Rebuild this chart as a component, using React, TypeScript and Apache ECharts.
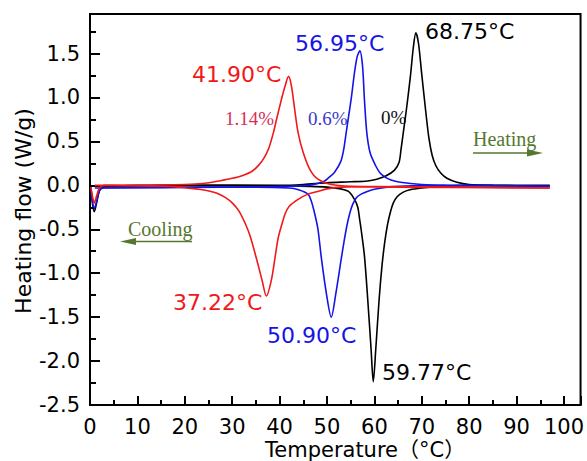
import React, { useEffect, useRef } from "react";
import * as echarts from "echarts";

type Pt = [number, number];

// Temperature (°C), heat flow (W/g)
const heating0pct: Pt[] = [
  [0.2, -0.02], [0.5, -0.2], [0.9, -0.3], [1.4, -0.2], [2.0, -0.06], [2.8, -0.02], [5, -0.01],
  [10, 0.0], [20, 0.0], [30, 0.0], [40, 0.0], [45, 0.01], [50, 0.03], [55, 0.04], [58.6, 0.05],
  [60.5, 0.07], [62.5, 0.11], [64.2, 0.17], [65.2, 0.26], [65.6, 0.4], [66.1, 0.6], [66.8, 0.88],
  [67.6, 1.24], [68.2, 1.56], [68.75, 1.735], [69.3, 1.62], [70.0, 1.26], [70.8, 0.86], [71.5, 0.54],
  [72.2, 0.34], [73.0, 0.22], [74.0, 0.14], [75.3, 0.08], [77.4, 0.035], [80, 0.01], [85, 0.0],
  [90, -0.005], [97, -0.01],
];
const cooling0pct: Pt[] = [
  [1, -0.01], [5, -0.01], [20, 0.0], [40, -0.005], [50, -0.02], [54.4, -0.065], [55.8, -0.16],
  [56.5, -0.25], [56.9, -0.39], [57.2, -0.5], [57.9, -0.8], [58.6, -1.3], [59.3, -1.86],
  [59.77, -2.235], [60.3, -1.86], [61.0, -1.3], [61.6, -0.92], [62.2, -0.64], [62.8, -0.44],
  [63.4, -0.3], [64.0, -0.2], [64.8, -0.13], [66, -0.08], [67.5, -0.05], [70, -0.03],
  [73.2, -0.015], [80, 0.0], [97, 0.0],
];
const heating06pct: Pt[] = [
  [0.2, -0.02], [0.5, -0.18], [0.9, -0.26], [1.4, -0.18], [2.0, -0.06], [2.8, -0.03], [5, -0.025],
  [15, -0.025], [25, -0.02], [35, -0.02], [42, -0.01], [46, 0.0], [48, 0.02], [49.5, 0.05],
  [50.2, 0.08], [51.6, 0.15], [52.9, 0.27], [53.5, 0.4], [54.0, 0.58], [54.6, 0.8], [55.1, 0.98],
  [55.8, 1.28], [56.4, 1.47], [56.95, 1.53], [57.5, 1.36], [57.9, 0.98], [58.4, 0.6], [59.1, 0.37],
  [60.3, 0.22], [61.2, 0.14], [62.1, 0.1], [63.5, 0.06], [65.5, 0.035], [70, 0.01], [75, 0.0],
  [85, -0.005], [97, -0.01],
];
const cooling06pct: Pt[] = [
  [1, -0.03], [5, -0.03], [20, -0.025], [35, -0.02], [42, -0.03], [44, -0.05], [46.0, -0.1],
  [46.7, -0.18], [47.4, -0.32], [48.1, -0.5], [48.8, -0.82], [49.9, -1.24], [50.9, -1.5],
  [51.9, -1.22], [53.0, -0.84], [53.6, -0.64], [54.2, -0.46], [54.8, -0.32], [55.4, -0.22],
  [56.2, -0.14], [57.2, -0.1], [58.5, -0.07], [60, -0.045], [64, -0.015], [75, 0.0], [97, -0.01],
];
const heating114pct: Pt[] = [
  [0.2, -0.02], [0.5, -0.12], [0.9, -0.2], [1.4, -0.12], [2.0, -0.03], [3, 0.0], [10, 0.0],
  [20, 0.01], [22.3, 0.015], [25.1, 0.03], [27.2, 0.05], [30, 0.08], [32.1, 0.11], [34.2, 0.16],
  [35.6, 0.23], [36.7, 0.31], [37.7, 0.42], [38.7, 0.6], [39.4, 0.76], [40.4, 0.98], [41.1, 1.12],
  [41.9, 1.24], [42.5, 1.13], [43.2, 0.86], [43.9, 0.6], [45.0, 0.37], [46.4, 0.18], [48.1, 0.07],
  [50.9, 0.01], [55, -0.01], [65, -0.02], [80, -0.025], [97, -0.03],
];
const cooling114pct: Pt[] = [
  [1, 0.0], [5, 0.0], [10, -0.005], [15, -0.01], [18.8, -0.02], [20.5, -0.03], [23, -0.045],
  [25.1, -0.065], [26.8, -0.09], [28.6, -0.14], [30.0, -0.2], [31.4, -0.29], [32.8, -0.44],
  [33.8, -0.58], [35.2, -0.85], [36.3, -1.08], [37.22, -1.26], [38.3, -1.07], [39.1, -0.8],
  [39.7, -0.6], [40.5, -0.44], [41.2, -0.32], [42.0, -0.24], [43.9, -0.16], [46, -0.1],
  [48.1, -0.07], [50, -0.04], [53, -0.02], [60, -0.015], [75, -0.02], [97, -0.03],
];

const peakLabels = ["41.90°C", "56.95°C", "68.75°C", "37.22°C", "50.90°C", "59.77°C"];
const contentLabels = ["1.14%", "0.6%", "0%"];
const xTitle = "Temperature（°C）";
const yTitle = "Heating flow (W/g)";

const RED = "#f01818";
const BLUE = "#1414e6";
const BLACK = "#000000";
const GREEN = "#56772f";
const SANS = "'DejaVu Sans', 'Noto Sans CJK SC', sans-serif";
const SERIF = "'Liberation Serif', 'DejaVu Serif', serif";

export default function App() {
  const ref = useRef<HTMLDivElement>(null);
  useEffect(() => {
    if (!ref.current) return;
    const chart = echarts.init(ref.current, undefined, { renderer: "svg" });
    const line = (data: Pt[], color: string) => ({
      type: "line",
      data,
      showSymbol: false,
      smooth: 0.3,
      lineStyle: { color, width: 1.6 },
      itemStyle: { color },
      z: 3,
    });
    const peakText = (text: string, x: number, y: number, color: string) => ({
      type: "text",
      x,
      y,
      style: { text, fill: color, font: `22px ${SANS}`, align: "left", verticalAlign: "middle" },
    });
    const serifText = (text: string, x: number, y: number, color: string, size: number) => ({
      type: "text",
      x,
      y,
      style: { text, fill: color, font: `${size}px ${SERIF}`, align: "left", verticalAlign: "middle" },
    });
    chart.setOption({
      animation: false,
      backgroundColor: "#ffffff",
      grid: { left: 90, right: 3, top: 14, bottom: 56, show: true, borderColor: "#000", borderWidth: 2 },
      xAxis: {
        type: "value",
        min: 0,
        max: 103.5,
        interval: 10,
        axisLine: { show: true, onZero: false, lineStyle: { color: "#000", width: 2 } },
        axisTick: { show: true, inside: true, length: 9, lineStyle: { color: "#000", width: 2 } },
        minorTick: { show: true, splitNumber: 2, length: 5, lineStyle: { color: "#000", width: 2 } },
        axisLabel: {
          color: "#000",
          fontSize: 21,
          lineHeight: 18,
          fontFamily: SANS,
          margin: 13,
          showMaxLabel: false,
        },
        splitLine: { show: false },
      },
      yAxis: {
        type: "value",
        min: -2.5,
        max: 1.95,
        interval: 0.5,
        axisLine: { show: true, onZero: false, lineStyle: { color: "#000", width: 2 } },
        axisTick: { show: true, inside: true, length: 10, lineStyle: { color: "#000", width: 2 } },
        minorTick: { show: true, splitNumber: 2, length: 6, lineStyle: { color: "#000", width: 2 } },
        axisLabel: {
          color: "#000",
          fontSize: 21,
          fontFamily: SANS,
          margin: 10,
          showMaxLabel: false,
          formatter: (v: number) => v.toFixed(1),
        },
        splitLine: { show: false },
      },
      series: [
        line(heating0pct, BLACK),
        line(cooling0pct, BLACK),
        line(heating06pct, BLUE),
        line(cooling06pct, BLUE),
        line(heating114pct, RED),
        line(cooling114pct, RED),
      ],
      graphic: [
        {
          type: "text",
          x: 265,
          y: 450,
          style: {
            text: xTitle,
            fill: "#000",
            font: `21px ${SANS}`,
            lineHeight: 18,
            align: "left",
            verticalAlign: "middle",
          },
        },
        {
          type: "text",
          x: 23,
          y: 211,
          rotation: Math.PI / 2,
          style: { text: yTitle, fill: "#000", font: `22px ${SANS}`, align: "center", verticalAlign: "middle" },
        },
        peakText(peakLabels[0], 192, 74, RED),
        peakText(peakLabels[1], 295, 43, BLUE),
        peakText(peakLabels[2], 425, 31, BLACK),
        peakText(peakLabels[3], 173, 302, RED),
        peakText(peakLabels[4], 267, 335, BLUE),
        peakText(peakLabels[5], 382, 372, BLACK),
        serifText(contentLabels[0], 225, 118, "#d4305e", 19),
        serifText(contentLabels[1], 308, 118, "#3b3bc8", 19),
        serifText(contentLabels[2], 381, 117, "#111", 19),
        serifText("Heating", 473, 139, GREEN, 20),
        serifText("Cooling", 128, 229, GREEN, 20),
        { type: "line", shape: { x1: 473, y1: 153, x2: 532, y2: 153 }, style: { stroke: GREEN, lineWidth: 1.6 } },
        { type: "polygon", shape: { points: [[527, 149.5], [543, 153], [527, 156.5]] }, style: { fill: GREEN } },
        { type: "line", shape: { x1: 131, y1: 241.5, x2: 192, y2: 241.5 }, style: { stroke: GREEN, lineWidth: 1.6 } },
        { type: "polygon", shape: { points: [[136, 238], [120, 241.5], [136, 245]] }, style: { fill: GREEN } },
      ],
    });
    return () => chart.dispose();
  }, []);
  return <div ref={ref} style={{ position: "fixed", left: 0, top: 0, width: 587, height: 461 }} />;
}
